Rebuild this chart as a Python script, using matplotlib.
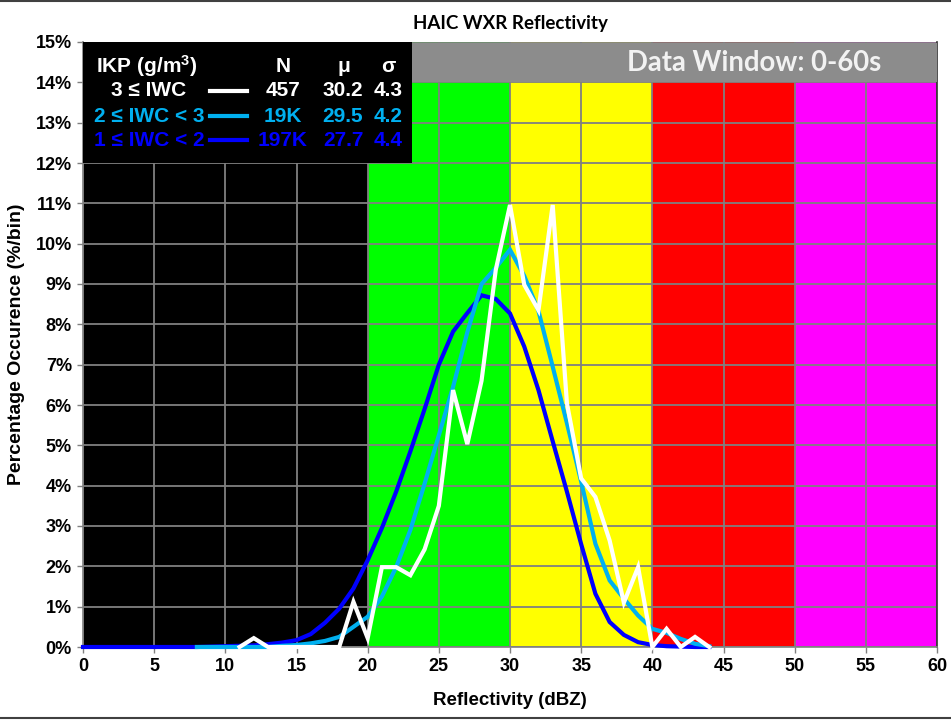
import matplotlib
matplotlib.use("Agg")
import matplotlib.pyplot as plt
from matplotlib.lines import Line2D
from matplotlib.patches import Rectangle
from matplotlib.ticker import FuncFormatter, MultipleLocator

plt.rcParams["mathtext.fontset"] = "custom"
plt.rcParams["mathtext.rm"] = "Liberation Sans:bold"
plt.rcParams["mathtext.bf"] = "Liberation Sans:bold"
plt.rcParams["mathtext.it"] = "Liberation Sans:bold"

# ---- data: percentage occurrence per 1 dBZ bin ----
dbz_blue = list(range(0, 45))
pct_blue = [0.0, 0.0, 0.0, 0.0, 0.0, 0.0, 0.0, 0.0, 0.0, 0.01,
            0.02, 0.03, 0.04, 0.07, 0.11, 0.17, 0.32, 0.6, 0.95, 1.45,
            2.15, 2.95, 3.85, 4.85, 5.9, 7.0, 7.82, 8.28, 8.72, 8.63,
            8.27, 7.45, 6.37, 5.1, 3.85, 2.55, 1.32, 0.62, 0.3, 0.12,
            0.05, 0.02, 0.01, 0.0, 0.0]

dbz_cyan = list(range(8, 45))
pct_cyan = [0.0, 0.0, 0.0, 0.0, 0.0, 0.0, 0.03, 0.05, 0.09, 0.15,
            0.25, 0.5, 0.75, 1.25, 1.98, 2.9, 4.05, 5.25, 6.45, 7.8,
            9.0, 9.4, 9.85, 9.2, 8.33, 6.95, 5.55, 4.1, 2.56, 1.65,
            1.2, 0.78, 0.45, 0.35, 0.2, 0.08, 0.02]

dbz_white = list(range(11, 45))
pct_white = [0.0, 0.22, 0.0, 0.0, 0.0, 0.0, 0.0, 0.0, 1.12, 0.22,
             1.98, 1.98, 1.78, 2.42, 3.5, 6.37, 5.03, 6.6, 9.35, 10.96,
             8.98, 8.35, 10.96, 6.04, 4.18, 3.72, 2.64, 1.1, 1.98, 0.0,
             0.45, 0.0, 0.25, 0.0]

# reflectivity colour bands
band_edges = [0, 20, 30, 40, 50, 60]
band_colors = ["#000000", "#00FF00", "#FFFF00", "#FF0000", "#FF00FF"]

# legend table
leg_labels = ["3 \u2264 IWC", "2 \u2264 IWC < 3", "1 \u2264 IWC < 2"]
leg_n = ["457", "19K", "197K"]
leg_mu = ["30.2", "29.5", "27.7"]
leg_sigma = ["4.3", "4.2", "4.4"]

C_WHITE = "#FFFFFF"
C_CYAN = "#00B0F0"
C_BLUE = "#0000FF"
series_colors = [C_WHITE, C_CYAN, C_BLUE]

W, H = 951, 720
fig = plt.figure(figsize=(W / 100, H / 100), dpi=100)
fig.patch.set_facecolor("white")


def P(x, y):
    return x / W, 1 - y / H


ax = fig.add_axes([83 / W, (H - 647) / H, (937 - 83) / W, (647 - 42) / H])
ax.set_xlim(0, 60)
ax.set_ylim(0, 15)

for i, c in enumerate(band_colors):
    ax.axvspan(band_edges[i], band_edges[i + 1], color=c, zorder=0.2, lw=0)

ax.set_axisbelow(True)
ax.grid(True, color="#808080", lw=1.3)
ax.xaxis.set_major_locator(MultipleLocator(5))
ax.yaxis.set_major_locator(MultipleLocator(1))
for gl in ax.xaxis.get_gridlines() + ax.yaxis.get_gridlines():
    gl.set_zorder(0.5)

ax.yaxis.set_major_formatter(FuncFormatter(lambda v, p: f"{int(round(v))}%"))

lw = 3.0
ax.plot(dbz_blue, pct_blue, color=C_BLUE, lw=lw, zorder=3, clip_on=False,
        solid_joinstyle="miter")
ax.plot(dbz_cyan, pct_cyan, color=C_CYAN, lw=lw, zorder=4, clip_on=False,
        solid_joinstyle="miter")
ax.plot(dbz_white, pct_white, color=C_WHITE, lw=lw, zorder=5, clip_on=False,
        solid_joinstyle="miter")

# legend panel and data-window banner
ax.add_patch(Rectangle((0, 12), 23.1, 3, facecolor="black", edgecolor="none",
                       zorder=6))
ax.add_patch(Rectangle((23.1, 14.0), 36.9, 0.97, facecolor="#8C8C8C",
                       edgecolor="none", zorder=6))
ax.text(56.1, 14.47, "Data Window: 0-60s", ha="right", va="center",
        color="#F2F2F2", fontsize=19.8, fontweight="bold", family="Lato",
        zorder=7)

ax.spines["top"].set_visible(False)
ax.spines["left"].set_color("#808080")
ax.spines["bottom"].set_color("#808080")
ax.spines["right"].set_color("#303030")
for side in ["left", "bottom", "right"]:
    ax.spines[side].set_linewidth(1.2)
ax.tick_params(axis="both", direction="out", length=4, width=1, color="#808080",
               labelsize=13, pad=4)
for lab in ax.get_xticklabels() + ax.get_yticklabels():
    lab.set_fontweight("bold")
    lab.set_family("Liberation Sans")

ax.set_xlabel("Reflectivity (dBZ)", fontsize=13.5, fontweight="bold",
              family="Liberation Sans", labelpad=12)
ax.set_ylabel("Percentage Occurence (%/bin)", fontsize=14, fontweight="bold",
              family="Liberation Sans", labelpad=8)
ax.set_title("HAIC WXR Reflectivity", fontsize=13.5, fontweight="bold",
             family="Lato", pad=9)

# legend table text
tk = dict(fontsize=15, fontweight="bold", family="Liberation Sans",
          ha="center", va="center", zorder=8)
fig.text(*P(147, 66), r"IKP (g/m$^{3}$)", color="white", **tk)
fig.text(*P(283, 67), "N", color="white", **tk)
fig.text(*P(344, 67), "\u03bc", color="white", **tk)
fig.text(*P(388, 67), "\u03c3", color="white", **tk)

row_y = [91, 116, 140]
for i in range(3):
    c = series_colors[i]
    y = row_y[i]
    fig.text(*P(149, y), leg_labels[i], color=c, **tk)
    fig.add_artist(Line2D([210 / W, 247 / W], [1 - y / H, 1 - y / H],
                          color=c, lw=3.0, zorder=8))
    fig.text(*P(283, y), leg_n[i], color=c, **tk)
    fig.text(*P(343, y), leg_mu[i], color=c, **tk)
    fig.text(*P(388, y), leg_sigma[i], color=c, **tk)

# chart frame lines
fig.add_artist(Line2D([0, 1], [1 - 1 / H, 1 - 1 / H], color="#404040", lw=1.5))
fig.add_artist(Line2D([0, 1], [1 - 718 / H, 1 - 718 / H], color="#404040",
                      lw=1.5))

fig.savefig("out.png", dpi=100)
